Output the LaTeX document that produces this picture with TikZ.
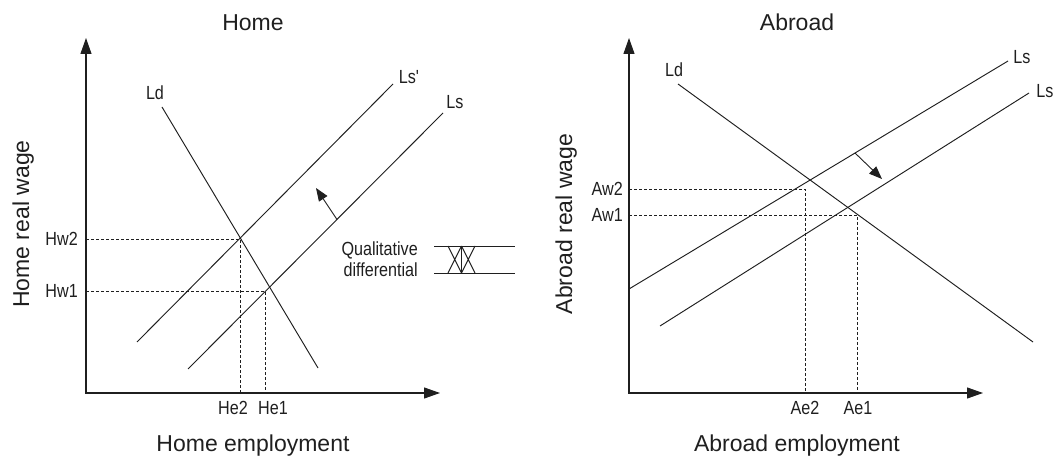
\documentclass[tikz,border=0pt]{standalone}
\usepackage{fontspec}
\setmainfont{Liberation Sans}
\newfontfamily\condfont[FakeStretch=0.85]{Liberation Sans}
\usetikzlibrary{arrows.meta}
\definecolor{ink}{gray}{0.12}
\begin{document}
\begin{tikzpicture}[x=1pt,y=-1pt,
  big/.style={font=\fontsize{23}{27}\selectfont, text=ink, inner sep=0pt},
  small/.style={font=\condfont\fontsize{19}{21}\selectfont, text=ink, inner sep=0pt},
  axes/.style={draw=ink, line width=1.1pt, {Triangle[length=16pt,width=11pt]}-{Triangle[length=16pt,width=11pt]}},
  curve/.style={draw=ink, line width=0.95pt},
  guide/.style={draw=ink, line width=0.8pt, dash pattern=on 3pt off 2pt},
  shiftarrow/.style={draw=ink, line width=0.9pt, -{Triangle[length=13pt,width=10pt]}}]
\useasboundingbox (0,0) rectangle (1061,457);

% ================= HOME =================
\node[big, anchor=base] (htitle) at (253,31) {Home};
\node[big, anchor=base] (hxlab) at (253,451) {Home employment};
\node[big, anchor=base, rotate=90] (hylab) at (29,224) {Home real wage};

\coordinate (HY) at (86,38);
\coordinate (HO) at (86,393);
\coordinate (HX) at (440,393);
\draw[axes] (HY) -- (HO) -- (HX);

\coordinate (HLdA) at (162,107);
\coordinate (HLdB) at (318,368);
\coordinate (HLspA) at (137,342);
\coordinate (HLspB) at (393,84);
\coordinate (HLsA) at (188,369);
\coordinate (HLsB) at (443,113);
\draw[curve] (HLdA) -- (HLdB);
\draw[curve] (HLspA) -- (HLspB);
\draw[curve] (HLsA) -- (HLsB);
\node[small] (hld) at (155,93) {Ld};
\node[small] (hlsp) at (409,77) {Ls'};
\node[small] (hls) at (455,102) {Ls};

% equilibria
\coordinate (HE2) at (240,239);
\coordinate (HE1) at (265,291);
\node[small, anchor=east] (hw2) at (78,239) {Hw2};
\node[small, anchor=east] (hw1) at (78,291) {Hw1};
\node[small] (he2) at (233,408) {He2};
\node[small] (he1) at (273,408) {He1};
\coordinate (HW2) at (86,239);
\coordinate (HW1) at (86,291);
\coordinate (HE2b) at (240,393);
\coordinate (HE1b) at (265,393);
\draw[guide] (HW2) -- (HE2) -- (HE2b);
\draw[guide] (HW1) -- (HE1) -- (HE1b);

% shift arrow
\coordinate (HSa) at (337,219.5);
\coordinate (HSb) at (316,188);
\draw[shiftarrow] (HSa) -- (HSb);

% qualitative differential legend
\node[small, align=right, anchor=east, font=\condfont\fontsize{19}{21}\selectfont] (qd) at (418,259.5) {Qualitative\\differential};
\coordinate (QT1) at (434,246);
\coordinate (QT2) at (515,246);
\coordinate (QB1) at (434,273);
\coordinate (QB2) at (515,273);
\draw[curve] (QT1) -- (QT2);
\draw[curve] (QB1) -- (QB2);
\coordinate (X1) at (448,246);
\coordinate (X2) at (461.5,246);
\coordinate (X3) at (475,246);
\coordinate (X4) at (448,273);
\coordinate (X5) at (461.5,273);
\coordinate (X6) at (475,273);
\draw[curve] (X1) -- (X5) (X2) -- (X4) (X2) -- (X6) (X3) -- (X5) (X2) -- (X5);

% ================= ABROAD =================
\node[big, anchor=base] (atitle) at (797,31) {Abroad};
\node[big, anchor=base] (axlab) at (797,451) {Abroad employment};
\node[big, anchor=base, rotate=90] (aylab) at (572,224) {Abroad real wage};

\coordinate (AY) at (629,38);
\coordinate (AO) at (629,393);
\coordinate (AX) at (983,393);
\draw[axes] (AY) -- (AO) -- (AX);

\coordinate (ALdA) at (678,84);
\coordinate (ALdB) at (1033,342);
\coordinate (ALsuA) at (629,289);
\coordinate (ALsuB) at (1008,61);
\coordinate (ALslA) at (660,326);
\coordinate (ALslB) at (1029,93);
\draw[curve] (ALdA) -- (ALdB);
\draw[curve] (ALsuA) -- (ALsuB);
\draw[curve] (ALslA) -- (ALslB);
\node[small] (ald) at (674,70) {Ld};
\node[small] (alsu) at (1022,57) {Ls};
\node[small] (alsl) at (1045,91) {Ls};

\coordinate (AE2) at (805,189);
\coordinate (AE1) at (857,215);
\node[small, anchor=east] (aw2) at (623,189) {Aw2};
\node[small, anchor=east] (aw1) at (623,215) {Aw1};
\node[small] (ae2) at (805,408) {Ae2};
\node[small] (ae1) at (858,408) {Ae1};
\coordinate (AW2) at (629,189);
\coordinate (AW1) at (629,215);
\coordinate (AE2b) at (805,393);
\coordinate (AE1b) at (857,393);
\draw[guide] (AW2) -- (AE2) -- (AE2b);
\draw[guide] (AW1) -- (AE1) -- (AE1b);

\coordinate (ASa) at (855,153);
\coordinate (ASb) at (882,179);
\draw[shiftarrow] (ASa) -- (ASb);
\end{tikzpicture}
\end{document}
